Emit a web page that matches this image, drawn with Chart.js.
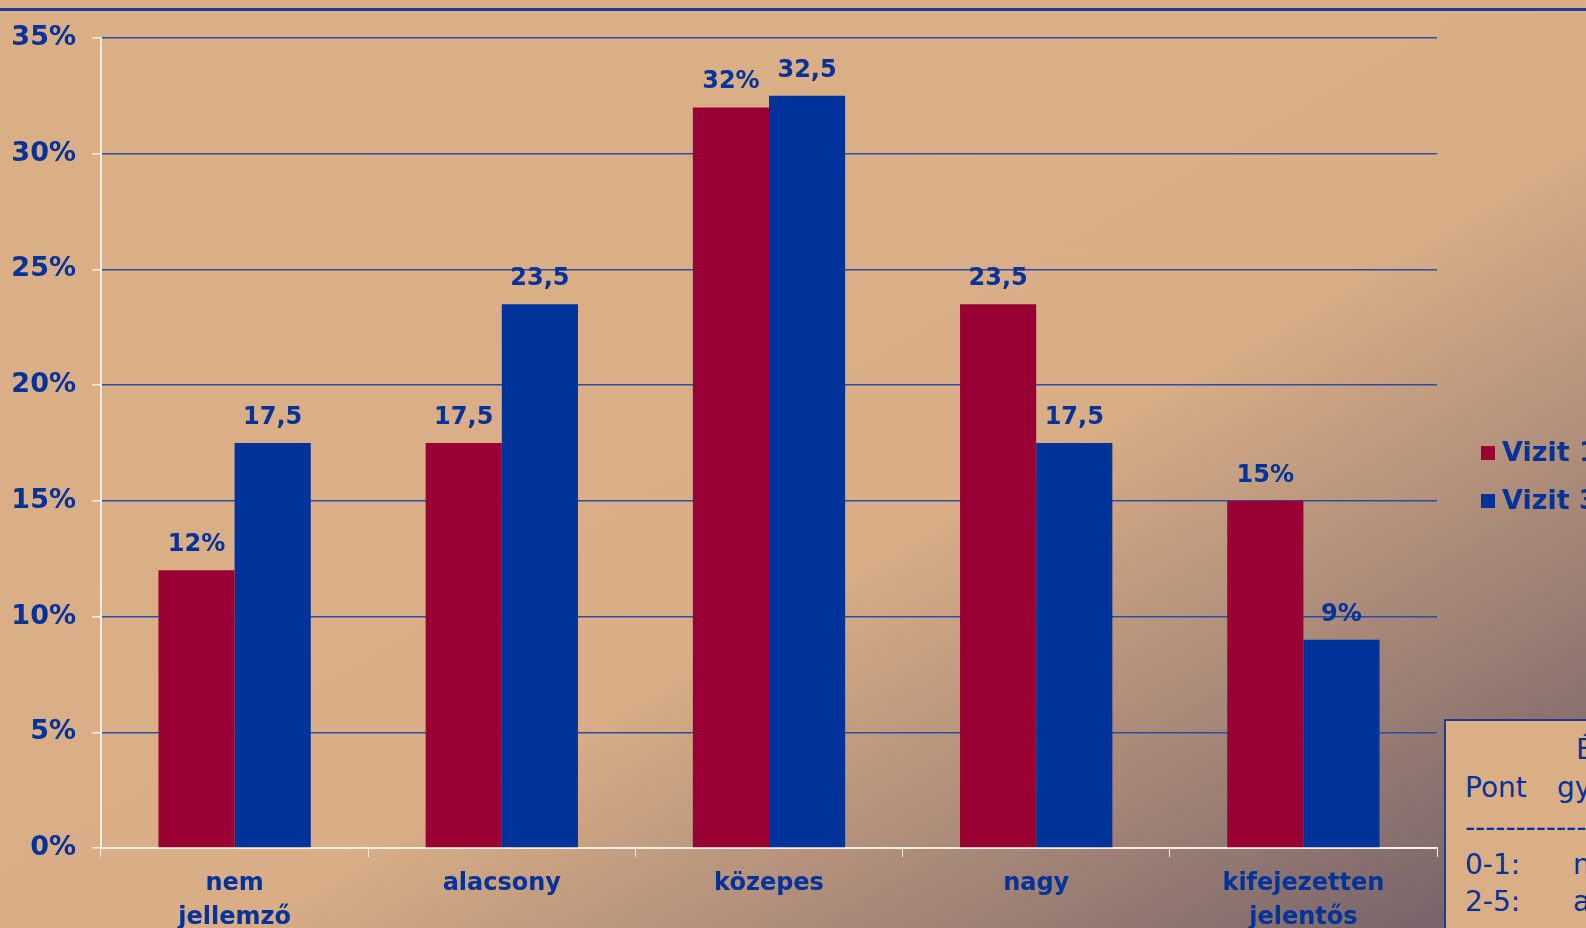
<!DOCTYPE html>
<html>
<head>
<meta charset="utf-8">
<script src="https://cdn.jsdelivr.net/npm/chart.js@4.4.1/dist/chart.umd.min.js"></script>
<style>
  html, body { margin: 0; padding: 0; width: 1586px; height: 928px; overflow: hidden; }
  body {
    position: relative;
    background: linear-gradient(to bottom right, #dbaf86 0%, #d9ae86 57%, #6d5b67 100%);
    font-family: "DejaVu Sans", Verdana, sans-serif;
    color: #003399;
  }
  #topline { position: absolute; left: 0; top: 8px; width: 1586px; height: 3px; background: #1e3c96; }
  #wrap { position: absolute; left: 0; top: 0; width: 1586px; height: 928px; }
  .leg { position: absolute; left: 1481px; font-weight: bold; font-size: 27px; white-space: nowrap; line-height: 1; }
  .leg i { display: inline-block; width: 14px; height: 14px; margin-right: 7px; vertical-align: 1px; }
  #box {
    position: absolute; left: 1444px; top: 719px; width: 400px; height: 300px;
    border: 2px solid #1e3c96; background: #dbaf86; box-sizing: border-box;
  }
  #box span { position: absolute; font-size: 28px; white-space: nowrap; line-height: 1; }
</style>
</head>
<body>
<div id="topline"></div>
<div id="wrap"><canvas id="chart" width="1586" height="928"></canvas></div>
<div id="legend"></div>
<div id="box">
  <span style="left:130px;top:15px">Értékelés</span>
  <span style="left:19px;top:53px">Pont</span>
  <span style="left:111px;top:53px">gyakoriság</span>
  <span style="left:19px;top:93px">-------------------------</span>
  <span style="left:19px;top:130px">0-1:</span>
  <span style="left:127px;top:130px">nem jellemző</span>
  <span style="left:19px;top:167px">2-5:</span>
  <span style="left:127px;top:167px">alacsony</span>
</div>
<script>
var categories = [['nem', 'jellemző'], 'alacsony', 'közepes', 'nagy', ['kifejezetten', 'jelentős']];
var seriesNames = ['Vizit 1', 'Vizit 3'];
var seriesColors = ['#990033', '#003399'];
var vizit1 = [12, 17.5, 32, 23.5, 15];
var vizit3 = [17.5, 23.5, 32.5, 17.5, 9];
var vizit1Labels = ['12%', '17,5', '32%', '23,5', '15%'];
var vizit3Labels = ['17,5', '23,5', '32,5', '17,5', '9%'];
var yTicks = [0, 5, 10, 15, 20, 25, 30, 35];

var textBlue = '#003399';

// value labels above each bar
var barLabels = {
  id: 'barLabels',
  afterDatasetsDraw: function(chart) {
    var ctx = chart.ctx;
    ctx.save();
    ctx.font = 'bold 24px "DejaVu Sans"';
    ctx.fillStyle = textBlue;
    ctx.textAlign = 'center';
    ctx.textBaseline = 'alphabetic';
    chart.data.datasets.forEach(function(ds, i) {
      var meta = chart.getDatasetMeta(i);
      meta.data.forEach(function(bar, j) {
        ctx.fillText(ds.valueLabels[j], bar.x, bar.y - 19);
      });
    });
    ctx.restore();
  }
};

var legendEl = document.getElementById('legend');
[455, 503].forEach(function(cy, i) {
  var d = document.createElement('div');
  d.className = 'leg';
  d.style.top = (cy - 17) + 'px';
  d.innerHTML = '<i style="background:' + seriesColors[i] + '"></i>' + seriesNames[i];
  legendEl.appendChild(d);
});

new Chart(document.getElementById('chart'), {
  type: 'bar',
  data: {
    labels: categories,
    datasets: [
      { label: seriesNames[0], data: vizit1, valueLabels: vizit1Labels, backgroundColor: seriesColors[0], categoryPercentage: 0.57, barPercentage: 1.0 },
      { label: seriesNames[1], data: vizit3, valueLabels: vizit3Labels, backgroundColor: seriesColors[1], categoryPercentage: 0.57, barPercentage: 1.0 }
    ]
  },
  options: {
    responsive: false,
    animation: false,
    layout: { padding: { left: 0, top: 38, right: 149, bottom: 0 } },
    plugins: { legend: { display: false }, tooltip: { enabled: false } },
    scales: {
      x: {
        grid: { drawOnChartArea: false, drawTicks: true, tickLength: 9, tickColor: '#f4efe6', offset: true },
        border: { color: '#f4efe6', width: 2 },
        ticks: { color: textBlue, font: { family: 'DejaVu Sans', weight: 'bold', size: 24, lineHeight: 1.4 }, padding: 10, maxRotation: 0, autoSkip: false },
        afterFit: function(s) { s.height = 80; }
      },
      y: {
        min: 0, max: 35,
        afterBuildTicks: function(s) { s.ticks = yTicks.map(function(v) { return { value: v }; }); },
        grid: { color: '#2a4ea6', lineWidth: 1.5, tickLength: 9, tickColor: '#f4efe6' },
        border: { color: '#f4efe6', width: 2 },
        ticks: {
          color: textBlue, padding: 16,
          font: { family: 'DejaVu Sans', weight: 'bold', size: 27 },
          callback: function(v) { return v + '%'; }
        },
        afterFit: function(s) { s.width = 101; }
      }
    }
  },
  plugins: [barLabels]
});
</script>
</body>
</html>
